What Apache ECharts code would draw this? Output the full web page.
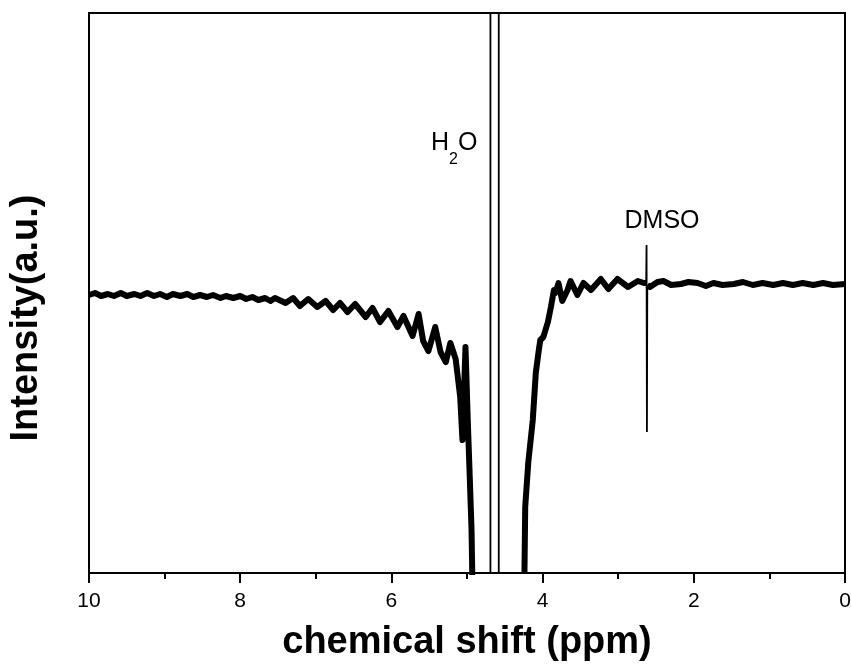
<!DOCTYPE html>
<html>
<head>
<meta charset="utf-8">
<script src="https://cdn.jsdelivr.net/npm/echarts@6/dist/echarts.min.js"></script>
<style>html,body{margin:0;padding:0;background:#fff}#c{width:852px;height:666px}</style>
</head>
<body>
<div id="c"></div>
<script>
// chemical shift (ppm), intensity (a.u.)
var leftWing = [[10.00,278],[9.92,280],[9.84,277],[9.75,279],[9.67,277],[9.58,280],[9.50,277],[9.40,279],[9.32,277],[9.23,280],[9.14,277],[9.06,279],[8.97,276],[8.89,279],[8.79,277],[8.70,279],[8.62,276],[8.53,278],[8.44,276],[8.36,278],[8.26,275],[8.19,277],[8.09,275],[8.00,277],[7.92,274],[7.84,276],[7.76,273],[7.67,275],[7.60,272],[7.54,275],[7.40,270],[7.30,275],[7.21,267],[7.10,274],[6.98,266],[6.87,272],[6.77,263],[6.68,270],[6.58,261],[6.48,269],[6.34,256],[6.25,265],[6.15,251],[6.04,262],[5.92,246],[5.84,257],[5.72,237],[5.64,259],[5.58,232],[5.51,222],[5.42,246],[5.35,221],[5.28,211],[5.22,230],[5.15,214],[5.09,176],[5.06,133],[5.02,226],[4.99,153],[4.97,110],[4.94,43],[4.93,-2]];
var waterPeak = [[4.93,-2],[4.91,-100],[4.69,-100],[4.69,900],[4.58,900],[4.58,-100],[4.24,-100],[4.24,0]];
var rightWingA = [[4.24,0],[4.23,66],[4.19,110],[4.13,153],[4.09,200],[4.05,223],[4.03,233],[3.99,236],[3.93,251],[3.89,266],[3.85,283],[3.83,280],[3.79,290],[3.74,272],[3.67,283],[3.63,292],[3.54,278],[3.46,290],[3.36,283],[3.23,294],[3.13,284],[3.01,294],[2.87,286],[2.74,292],[2.66,290],[2.63,290]];
var dmsoPeak = [[2.63,290],[2.625,328],[2.62,141],[2.615,288]];
var rightWingB = [[2.615,288],[2.58,286],[2.48,291],[2.40,292],[2.30,288],[2.17,289],[2.07,291],[1.95,290],[1.84,287],[1.74,290],[1.62,288],[1.47,289],[1.35,291],[1.22,288],[1.09,290],[0.95,288],[0.82,290],[0.69,288],[0.56,290],[0.42,288],[0.29,290],[0.16,288],[0.00,289]];
var annotations = [
  {text:'{a|H}{b|2}{a|O}', coord:[5.17,430]},
  {text:'{a|DMSO}', coord:[2.42,352]}
];
var xTitle = 'chemical shift (ppm)';
var yTitle = 'Intensity(a.u.)';

var FONT = 'Liberation Sans, Arial, sans-serif';
var chart = echarts.init(document.getElementById('c'), null, {renderer:'canvas'});
function thick(d){return {type:'line', data:d, showSymbol:false, symbol:'none', clip:true, animation:false,
  lineStyle:{color:'#000', width:6, join:'round'}, silent:true};}
function thin(d){return {type:'line', data:d, showSymbol:false, symbol:'none', clip:true, animation:false,
  lineStyle:{color:'#000', width:1.8}, silent:true};}
var s4 = thin(dmsoPeak);
s4.markPoint = {symbol:'circle', symbolSize:0, animation:false,
  data: annotations.map(function(a){return {coord:a.coord, value:a.text};}),
  label:{show:true, position:'inside', color:'#000', fontFamily:FONT,
    formatter:function(p){return p.value;},
    rich:{a:{fontSize:25, fontFamily:FONT, color:'#000', lineHeight:50},
          b:{fontSize:16, fontFamily:FONT, color:'#000', lineHeight:16, verticalAlign:'bottom'}}}};
chart.setOption({
  backgroundColor:'#fff',
  animation:false,
  grid:{left:89, right:7, top:13, bottom:93, show:true, borderColor:'#000', borderWidth:2, outerBoundsMode:'none', containLabel:false},
  xAxis:{type:'value', min:0, max:10, interval:2, inverse:true,
    axisLine:{show:true, onZero:false, lineStyle:{color:'#000', width:2}},
    axisTick:{show:true, inside:false, length:10, lineStyle:{color:'#000', width:2}},
    minorTick:{show:true, splitNumber:2, length:6, lineStyle:{color:'#000', width:2}},
    splitLine:{show:false}, minorSplitLine:{show:false},
    axisLabel:{show:true, color:'#000', fontSize:21, fontFamily:FONT, margin:18},
    name:xTitle, nameLocation:'middle', nameGap:51,
    nameTextStyle:{color:'#000', fontSize:38, fontWeight:'bold', fontFamily:FONT}},
  yAxis:{type:'value', min:0, max:560,
    axisLine:{show:true, lineStyle:{color:'#000', width:2}},
    axisTick:{show:false}, axisLabel:{show:false}, splitLine:{show:false}},
  graphic:[{type:'text', x:27, y:318, rotation:Math.PI/2, silent:true,
    style:{text:yTitle, font:'bold 38px ' + FONT, fill:'#000', align:'center', verticalAlign:'middle',
      textAlign:'center', textVerticalAlign:'middle'}}],
  series:[thick(leftWing), thin(waterPeak), thick(rightWingA), s4, thick(rightWingB)]
});
</script>
</body>
</html>
